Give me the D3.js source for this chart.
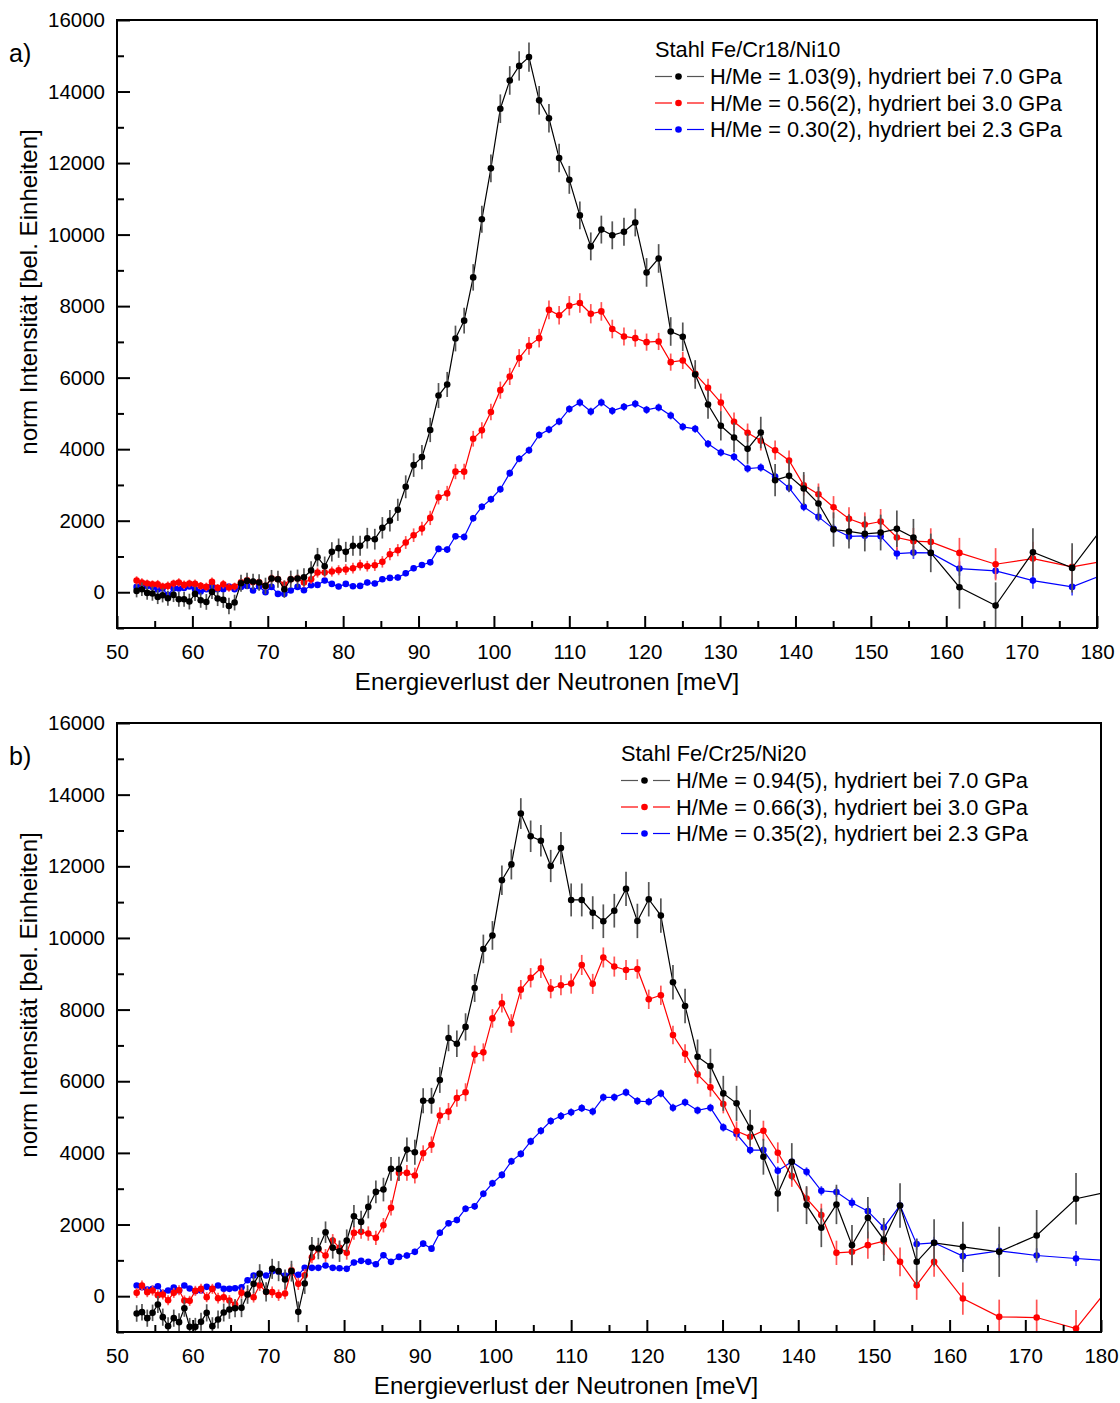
<!DOCTYPE html>
<html>
<head>
<meta charset="utf-8">
<script src="https://cdn.jsdelivr.net/npm/d3@7"></script>
<style>
  body { margin: 0; background: #fff; }
  svg { display: block; }
  text { font-family: "Liberation Sans", Arial, Helvetica, sans-serif; fill: #000; }
</style>
</head>
<body>
<svg id="chart" width="1120" height="1403"></svg>
<script>
// Energy-loss grid (meV), shared by all spectra
const energy = [
  52.6, 53.3, 54.0, 54.7, 55.4, 56.05, 56.75, 57.5, 58.2, 58.9,
  59.6, 60.35, 61.1, 61.85, 62.6, 63.35, 64.1, 64.85, 65.6, 66.45,
  67.25, 68.05, 68.85, 69.7, 70.5, 71.35, 72.2, 73.05, 73.95, 74.8,
  75.75, 76.6, 77.55, 78.5, 79.4, 80.35, 81.3, 82.25, 83.2, 84.2,
  85.2, 86.2, 87.25, 88.3, 89.35,
  90.45, 91.55, 92.65, 93.8, 94.9, 96.05, 97.25, 98.4, 99.6, 100.85,
  102.1, 103.35, 104.65, 106.0, 107.3, 108.65, 110.0, 111.4, 112.85, 114.25, 115.7,
  117.25, 118.75, 120.25, 121.85, 123.45, 125.05, 126.7, 128.4, 130.1, 131.85,
  133.65, 135.4, 137.3, 139.15, 141.1, 143.05, 145.05, 147.1,
  149.2, 151.3, 153.45, 155.65, 157.95, 161.75, 166.55, 171.5, 176.7, 182.3
];

// Panel a) Stahl Fe/Cr18/Ni10
const aBlack = [
  37, 84, -19, -37, -131, -84, -168, -75, -196, -196,
  -261, -47, -224, -271, 9, -177, -215, -383, -289, 252,
  317, 299, 271, 177, 383, 364, 84, 364, 383, 420,
  606, 980, 728, 1129, 1232, 1129, 1297, 1297, 1511, 1483,
  1801, 1997, 2305, 2948, 3555,
  3779, 4537, 5499, 5810, 7094, 7594, 8803, 10428, 11852, 13519,
  14310, 14716, 14962, 13754, 13253, 12140, 11530, 10537, 9670, 10140, 9980,
  10079, 10340, 8942, 9333, 7291, 7142, 6089, 5249, 4653, 4326,
  4009, 4466, 3133, 3254, 2900, 2480, 1753, 1700,
  1632, 1669, 1772, 1529, 1100, 140, -373, 1119, 681, 2238
];
const aBlackErr = [
  180, 190, 190, 200, 200, 200, 210, 200, 210, 210,
  220, 200, 210, 220, 200, 210, 220, 230, 220, 240,
  230, 220, 230, 230, 240, 240, 240, 240, 250, 250,
  260, 260, 270, 270, 270, 280, 280, 280, 290, 290,
  300, 300, 310, 320, 330,
  340, 340, 350, 350, 360, 360, 370, 380, 390, 400,
  400, 410, 410, 400, 400, 400, 390, 390, 390, 390, 390,
  390, 390, 400, 400, 400, 400, 400, 400, 410, 410,
  420, 440, 450, 450, 460, 470, 480, 480,
  490, 500, 510, 520, 540, 600, 650, 670, 690, 700
];
const aRed = [
  327, 271, 243, 224, 224, 159, 177, 243, 271, 205,
  243, 233, 177, 149, 289, 121, 224, 131, 159, 280,
  336, 280, 280, 177, 383, 364, 215, 364, 383, 271,
  364, 550, 550, 578, 616, 634, 672, 756, 728, 756,
  849, 1064, 1176, 1390, 1595,
  1779, 2078, 2655, 2764, 3371, 3371, 4291, 4526, 5041, 5650,
  6034, 6548, 6890, 7105, 7894, 7745, 8011, 8087, 7787, 7852, 7360,
  7152, 7105, 6993, 7012, 6434, 6480, 6107, 5716, 5305, 4765,
  4457, 4233, 3972, 3683, 2993, 2741, 2378, 2055,
  1893, 1977, 1529, 1427, 1408, 1100, 783, 942, 709, 923
];
const aRedErr = [
  120, 120, 110, 110, 120, 110, 120, 110, 120, 120,
  110, 120, 110, 120, 120, 110, 120, 120, 110, 120,
  120, 120, 120, 120, 130, 130, 120, 130, 130, 130,
  130, 140, 140, 140, 140, 150, 150, 150, 150, 160,
  160, 170, 170, 180, 190,
  190, 200, 200, 210, 210, 220, 220, 230, 230, 240,
  240, 250, 250, 260, 260, 260, 270, 270, 270, 260, 260,
  250, 240, 240, 240, 240, 240, 240, 250, 250, 260,
  260, 270, 270, 280, 290, 300, 310, 320,
  340, 350, 360, 370, 380, 420, 450, 470, 480, 500
];
const aBlue = [
  149, 252, 177, 149, 75, 103, -75, 103, 103, 121,
  159, 84, 19, 84, 177, 84, 84, 159, 84, 149,
  177, 47, 159, 0, 149, -47, -47, 47, 149, 56,
  196, 205, 327, 233, 159, 233, 168, 177, 271, 243,
  364, 401, 411, 532, 672,
  763, 838, 1211, 1192, 1564, 1544, 2067, 2389, 2601, 2881,
  3329, 3734, 3972, 4397, 4548, 4772, 5124, 5306, 5052, 5306, 5071,
  5184, 5268, 5100, 5166, 4942, 4625, 4569, 4149, 3907, 3786,
  3459, 3487, 3235, 2918, 2387, 2107, 1772, 1560,
  1576, 1566, 1082, 1110, 1100, 662, 597, 326, 149, 615
];
const aBlueErr = [
  70, 70, 70, 70, 70, 70, 70, 70, 70, 70,
  70, 70, 70, 70, 70, 70, 70, 70, 70, 70,
  70, 70, 70, 70, 70, 70, 70, 70, 70, 70,
  70, 75, 75, 75, 75, 75, 75, 80, 80, 80,
  80, 80, 85, 85, 85,
  85, 90, 90, 90, 90, 95, 95, 95, 100, 100,
  100, 100, 100, 100, 105, 105, 105, 110, 110, 110, 110,
  110, 110, 110, 110, 110, 110, 110, 110, 110, 115,
  115, 115, 120, 120, 120, 125, 130, 140,
  150, 160, 170, 180, 190, 200, 220, 230, 240, 250
];

// Panel b) Stahl Fe/Cr25/Ni20
const bBlack = [
  -484, -446, -614, -465, -233, -586, -837, -614, -725, -335,
  -856, -856, -716, -465, -837, -651, -456, -372, -335, -326,
  47, 344, 623, 121, 763, 698, 465, 698, -437, 353,
  1349, 1330, 1786, 1349, 1256, 1553, 2232, 2074, 2492, 2911,
  2976, 3553, 3553, 4092, 4018,
  5455, 5455, 6034, 7207, 7045, 7517, 8603, 9693, 10070, 11609,
  12053, 13472, 12838, 12715, 12008, 12508, 11061, 11061, 10704, 10466, 10760,
  11369, 10475, 11080, 10624, 8762, 8101, 6685, 6425, 5661, 5382,
  4702, 3892, 2868, 3752, 2542, 1909, 2561, 1425,
  2188, 1583, 2533, 959, 1490, 1378, 1238, 1695, 2719, 2970
];
const bBlackErr = [
  230, 230, 240, 230, 240, 240, 250, 240, 250, 240,
  250, 250, 250, 240, 250, 250, 250, 260, 250, 260,
  260, 270, 270, 270, 280, 280, 280, 290, 290, 290,
  300, 300, 300, 300, 300, 310, 310, 310, 320, 320,
  330, 330, 340, 340, 350,
  350, 360, 360, 370, 370, 380, 390, 400, 400, 410,
  420, 430, 440, 440, 450, 450, 460, 460, 460, 470, 470,
  480, 480, 480, 480, 480, 480, 480, 480, 490, 490,
  500, 500, 510, 520, 530, 540, 550, 560,
  580, 600, 620, 640, 660, 700, 700, 710, 720, 730
];
const bRed = [
  93, 298, 112, 158, 28, 47, -112, 93, 167, -121,
  -130, 149, 205, -28, 205, -56, -28, -121, -233, 93,
  47, -28, 307, 121, 112, 28, 74, 725, 344, 586,
  1088, 1302, 1135, 1553, 1349, 1209, 1767, 1795, 1748, 1628,
  1981, 2465, 3441, 3441, 3367,
  3991, 4229, 5041, 5154, 5531, 5693, 6743, 6807, 7754, 8179,
  7612, 8556, 8888, 9153, 8585, 8679, 8726, 9246, 8718, 9455, 9201,
  9106, 9134, 8287, 8399, 7291, 6769, 6192, 5829, 5363, 4609,
  4451, 4618, 4004, 3352, 2728, 2263, 1210, 1238,
  1425, 1536, 959, 307, 959, -65, -577, -596, -903, 568
];
const bRedErr = [
  140, 140, 140, 140, 140, 140, 140, 140, 140, 140,
  140, 140, 140, 140, 140, 150, 150, 150, 150, 150,
  150, 150, 160, 160, 160, 160, 160, 170, 170, 170,
  170, 180, 180, 180, 190, 190, 190, 190, 200, 200,
  200, 210, 210, 220, 220,
  220, 230, 230, 240, 240, 250, 250, 250, 260, 260,
  260, 270, 270, 270, 270, 280, 280, 280, 280, 280, 280,
  280, 270, 270, 270, 260, 260, 260, 260, 260, 270,
  270, 280, 290, 300, 310, 320, 340, 360,
  380, 390, 400, 410, 420, 450, 480, 500, 520, 540
];
const bBlue = [
  298, 251, 186, 205, 279, 93, 158, 242, 158, 298,
  214, 140, 158, 260, 205, 298, 205, 205, 223, 251,
  446, 577, 632, 577, 698, 679, 577, 651, 595, 791,
  791, 791, 856, 791, 781, 763, 939, 986, 958, 893,
  1144, 958, 1097, 1135, 1237,
  1466, 1327, 1771, 2034, 2128, 2441, 2508, 2858, 3151, 3386,
  3765, 3972, 4321, 4615, 4888, 5031, 5134, 5249, 5154, 5550, 5550,
  5689, 5447, 5428, 5661, 5261, 5410, 5186, 5261, 4711, 4525,
  4078, 4078, 3501, 3752, 3473, 2942, 2905, 2607,
  2374, 1918, 2533, 1453, 1490, 1117, 1266, 1136, 1052, 978
];
const bBlueErr = [
  70, 70, 70, 70, 70, 70, 70, 70, 70, 70,
  70, 70, 70, 70, 70, 70, 70, 70, 70, 70,
  70, 70, 70, 70, 70, 70, 70, 70, 70, 75,
  75, 75, 75, 75, 75, 75, 80, 80, 80, 80,
  80, 80, 85, 85, 85,
  85, 90, 90, 90, 90, 95, 95, 95, 100, 100,
  100, 100, 105, 105, 105, 110, 110, 110, 110, 110, 110,
  110, 110, 110, 110, 110, 110, 110, 110, 115, 115,
  115, 120, 120, 120, 125, 130, 135, 140,
  145, 150, 155, 160, 170, 180, 190, 200, 210, 220
];

// Legend texts
const aTitle = "Stahl Fe/Cr18/Ni10";
const aLabels = [
  "H/Me = 1.03(9), hydriert bei 7.0 GPa",
  "H/Me = 0.56(2), hydriert bei 3.0 GPa",
  "H/Me = 0.30(2), hydriert bei 2.3 GPa"
];
const bTitle = "Stahl Fe/Cr25/Ni20";
const bLabels = [
  "H/Me = 0.94(5), hydriert bei 7.0 GPa",
  "H/Me = 0.66(3), hydriert bei 3.0 GPa",
  "H/Me = 0.35(2), hydriert bei 2.3 GPa"
];

// Axis ticks
const xMajorTicks = [50, 60, 70, 80, 90, 100, 110, 120, 130, 140, 150, 160, 170, 180];
const xMinorTicks = [55, 65, 75, 85, 95, 105, 115, 125, 135, 145, 155, 165, 175];
const yMajorTicks = [0, 2000, 4000, 6000, 8000, 10000, 12000, 14000, 16000];
const yMinorTicks = [-1000, 1000, 3000, 5000, 7000, 9000, 11000, 13000, 15000];

const seriesColors = ["#000000", "#ff0000", "#0000ff"];
const errColors = ["#555555", "#ff5555", "#4d4dff"];

const panels = [
  {
    id: "a", tag: "a)", box: { left: 117, right: 1097, top: 20, bottom: 628 },
    title: aTitle, labels: aLabels, legend: { x: 655, y: 57 },
    yTitleY: 292, xTitleX: 547,
    series: [
      { values: aBlack, errors: aBlackErr },
      { values: aRed, errors: aRedErr },
      { values: aBlue, errors: aBlueErr }
    ]
  },
  {
    id: "b", tag: "b)", box: { left: 117, right: 1101, top: 723, bottom: 1332 },
    title: bTitle, labels: bLabels, legend: { x: 621, y: 761 },
    yTitleY: 995, xTitleX: 566,
    series: [
      { values: bBlack, errors: bBlackErr },
      { values: bRed, errors: bRedErr },
      { values: bBlue, errors: bBlueErr }
    ]
  }
];

const svg = d3.select("#chart");
const defs = svg.append("defs");

panels.forEach(p => {
  const b = p.box;
  const x = d3.scaleLinear().domain([50, 180]).range([b.left, b.right]);
  const y = d3.scaleLinear().domain([-1000, 16000]).range([b.bottom, b.top]);

  defs.append("clipPath").attr("id", "clip-" + p.id)
    .append("rect").attr("x", b.left).attr("y", b.top)
    .attr("width", b.right - b.left).attr("height", b.bottom - b.top);

  const g = svg.append("g");

  // data: draw series from lowest intensity to highest so black sits on top
  const plot = g.append("g").attr("clip-path", `url(#clip-${p.id})`);
  const order = [2, 1, 0];
  order.forEach(si => {
    const s = p.series[si];
    const pts = energy.map((e, i) => ({ e, v: s.values[i], err: s.errors[i] }));
    const sg = plot.append("g");
    sg.append("path")
      .datum(pts)
      .attr("fill", "none")
      .attr("stroke", seriesColors[si])
      .attr("stroke-width", 1.2)
      .attr("d", d3.line().x(d => x(d.e)).y(d => y(d.v)));
    sg.selectAll("line.err").data(pts).join("line")
      .attr("class", "err")
      .attr("x1", d => x(d.e)).attr("x2", d => x(d.e))
      .attr("y1", d => y(d.v - d.err)).attr("y2", d => y(d.v + d.err))
      .attr("stroke", errColors[si])
      .attr("stroke-width", 1.7);
    sg.selectAll("circle").data(pts).join("circle")
      .attr("cx", d => x(d.e)).attr("cy", d => y(d.v))
      .attr("r", 3.3)
      .attr("fill", seriesColors[si]);
  });

  // axes with inward ticks
  const axX = g.append("g").attr("transform", `translate(0,${b.bottom})`);
  axX.call(d3.axisBottom(x).tickValues(xMajorTicks).tickSize(-12).tickSizeOuter(0).tickPadding(16)
    .tickFormat(d3.format("d")));
  const axXm = g.append("g").attr("transform", `translate(0,${b.bottom})`);
  axXm.call(d3.axisBottom(x).tickValues(xMinorTicks).tickSize(-7).tickSizeOuter(0).tickFormat(""));

  const axY = g.append("g").attr("transform", `translate(${b.left},0)`);
  axY.call(d3.axisLeft(y).tickValues(yMajorTicks).tickSize(-13).tickSizeOuter(0).tickPadding(12)
    .tickFormat(d3.format("d")));
  const axYm = g.append("g").attr("transform", `translate(${b.left},0)`);
  axYm.call(d3.axisLeft(y).tickValues(yMinorTicks).tickSize(-7).tickSizeOuter(0).tickFormat(""));

  [axX, axXm, axY, axYm].forEach(a => {
    a.select(".domain").remove();
    a.selectAll(".tick line").attr("stroke", "#000").attr("stroke-width", 2);
    a.selectAll(".tick text").attr("font-size", 20.5)
      .attr("font-family", "'Liberation Sans', Arial, sans-serif").attr("fill", "#000");
  });

  // frame
  g.append("rect")
    .attr("x", b.left).attr("y", b.top)
    .attr("width", b.right - b.left).attr("height", b.bottom - b.top)
    .attr("fill", "none").attr("stroke", "#000").attr("stroke-width", 2);

  // axis titles
  g.append("text")
    .attr("x", p.xTitleX).attr("y", b.bottom + 62)
    .attr("text-anchor", "middle").attr("font-size", 24.1)
    .text("Energieverlust der Neutronen [meV]");
  g.append("text")
    .attr("transform", `translate(37,${p.yTitleY}) rotate(-90)`)
    .attr("text-anchor", "middle").attr("font-size", 24.1)
    .text("norm Intensität [bel. Einheiten]");

  // panel tag
  g.append("text")
    .attr("x", 9).attr("y", b.top + 42)
    .attr("font-size", 25)
    .text(p.tag);

  // legend
  const lg = g.append("g").attr("transform", `translate(${p.legend.x},${p.legend.y})`);
  lg.append("text").attr("x", 0).attr("y", 0).attr("font-size", 21.8).text(p.title);
  p.labels.forEach((lab, i) => {
    const cy = 19.5 + i * 26.5;
    const row = lg.append("g").attr("transform", `translate(0,${cy})`);
    row.append("line").attr("x1", 0).attr("x2", 17).attr("y1", 0).attr("y2", 0)
      .attr("stroke", i === 0 ? "#555" : seriesColors[i]).attr("stroke-width", 1.2);
    row.append("line").attr("x1", 32).attr("x2", 49).attr("y1", 0).attr("y2", 0)
      .attr("stroke", i === 0 ? "#555" : seriesColors[i]).attr("stroke-width", 1.2);
    row.append("circle").attr("cx", 23.5).attr("cy", 0).attr("r", 3.3).attr("fill", seriesColors[i]);
    row.append("text").attr("x", 55).attr("y", 7.5).attr("font-size", 21.8).text(lab);
  });
});
</script>
</body>
</html>
